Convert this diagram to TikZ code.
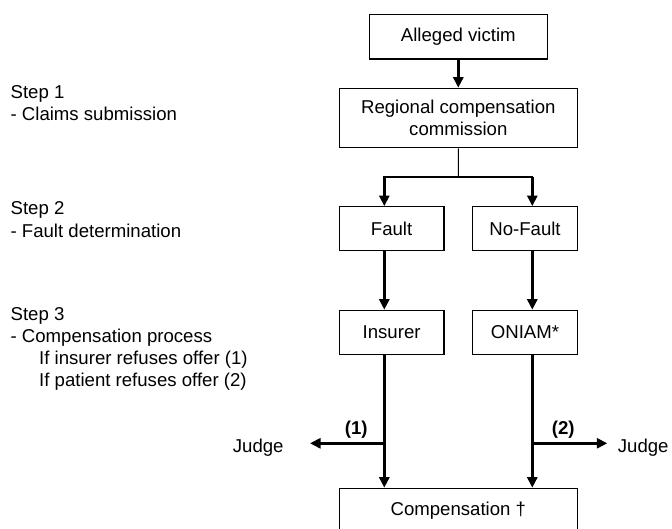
\documentclass[tikz,border=0pt]{standalone}
\usepackage{fontspec}
\setmainfont{Liberation Sans}
\usepackage{tikz}
\usetikzlibrary{arrows.meta}
\tikzstyle{process} = [rectangle, minimum width=104.6pt, minimum height=44pt, inner sep=0pt, text centered, draw=black, line width=1.2pt]
\tikzstyle{arrow} = [line width=2.7pt, -{Triangle[length=10.5pt,width=10pt]}]
\tikzstyle{steptext} = [anchor=base west, inner sep=0pt]

\begin{document}
\begin{tikzpicture}[x=1pt, y=1pt, font=\fontsize{18.6pt}{22.3pt}\selectfont]
    \useasboundingbox (0,0) rectangle (672,-529);
    % boxes
    \node(victim)[process, minimum width=178pt, minimum height=44.7pt] at (458.3,-36.7) {Alleged victim};
    \node(commission)[process, minimum width=238pt, minimum height=59.4pt, align=center] at (458.3,-118) {Regional compensation\\commission};
    \node(fault)[process] at (391.6,-228.7) {Fault};
    \node(nofault)[process] at (525,-228.7) {No-Fault};
    \node(insurer)[process] at (391.6,-332.3) {Insurer};
    \node(oniam)[process] at (525,-332.3) {ONIAM*};
    \node(comp)[process, minimum width=238pt] at (458.3,-510.3) {Compensation \textdagger};
    % steps on the left
    \node(step1)[steptext] at (10.4,-98.3) {Step 1};
    \node(step1txt)[steptext] at (10.4,-120.6) {- Claims submission};
    \node(step2)[steptext] at (10.4,-215) {Step 2};
    \node(step2txt)[steptext] at (10.4,-237.3) {- Fault determination};
    \node(step3)[steptext] at (10.4,-320) {Step 3};
    \node(step3txt)[steptext] at (10.4,-342.3) {- Compensation process};
    \node(refuse1)[steptext] at (39,-364.6) {If insurer refuses offer (1)};
    \node(refuse2)[steptext] at (39,-386.9) {If patient refuses offer (2)};
    % judges
    \node(judgeL)[steptext] at (232.7,-452.7) {Judge};
    \node(judgeR)[steptext] at (617.7,-452.7) {Judge};
    \node(ref1)[inner sep=0pt] at (356.3,-429.7) {\textbf{(1)}};
    \node(ref2)[inner sep=0pt] at (563.3,-429.7) {\textbf{(2)}};
    % connectors
    \coordinate(split) at (458.5,-176.7);
    \coordinate(lcol) at (384.3,0);
    \coordinate(rcol) at (532.3,0);
    \coordinate(lout) at (384.3,-443.3);
    \coordinate(ltip) at (310,-443.3);
    \coordinate(rout) at (532.3,-443.3);
    \coordinate(rtip) at (607.3,-443.3);
    \draw[arrow](victim)--(commission);
    \draw[line width=1pt](commission.south)--(split);
    \draw[line width=2pt, line cap=rect](split -| lcol)--(split -| rcol);
    \draw[arrow](split -| lcol)--(fault.north -| lcol);
    \draw[arrow](split -| rcol)--(nofault.north -| rcol);
    \draw[arrow](fault.south -| lcol)--(insurer.north -| lcol);
    \draw[arrow](nofault.south -| rcol)--(oniam.north -| rcol);
    \draw[arrow](insurer.south -| lcol)--(comp.north -| lcol);
    \draw[arrow](oniam.south -| rcol)--(comp.north -| rcol);
    \draw[arrow](lout)--(ltip);
    \draw[arrow](rout)--(rtip);
  \end{tikzpicture}
\end{document}
